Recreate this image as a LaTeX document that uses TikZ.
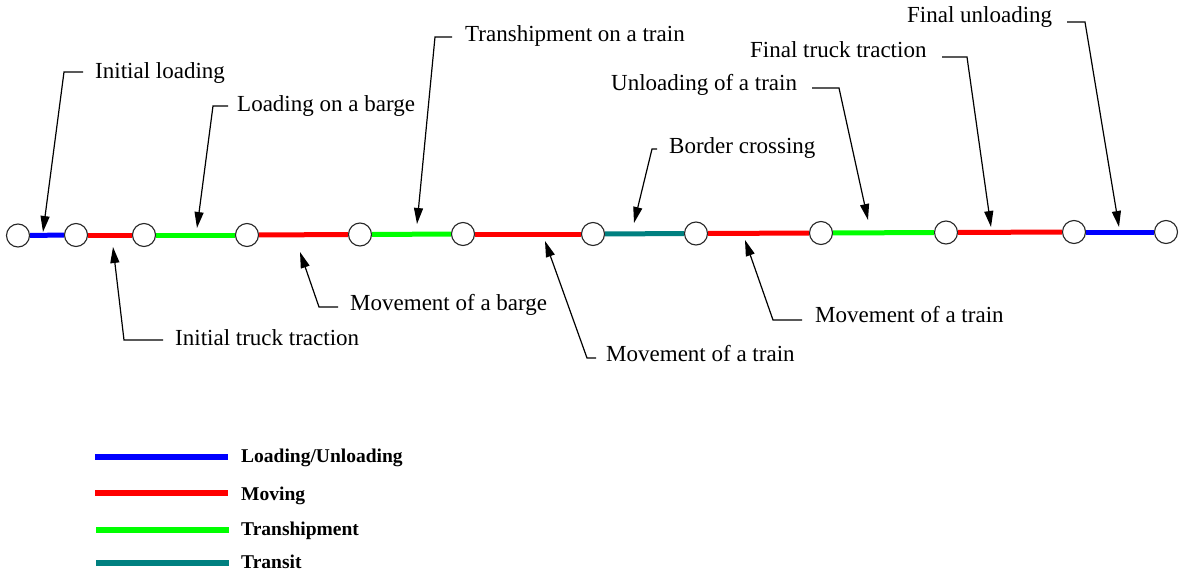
\documentclass[tikz,border=0pt]{standalone}
\usepackage{fontspec}
\setmainfont{Liberation Serif}
\usetikzlibrary{arrows.meta,calc}
\definecolor{loadblue}{RGB}{0,0,255}
\definecolor{moved}{RGB}{255,0,0}
\definecolor{transgreen}{RGB}{0,255,0}
\definecolor{transitteal}{RGB}{0,128,128}
\begin{document}
\begin{tikzpicture}[x=1pt,y=-1pt,
  stop/.style={circle,draw=black!85,fill=white,line width=1.1pt,minimum size=23pt,inner sep=0pt},
  track/.style={line width=5pt},
  lbl/.style={anchor=base west,inner sep=0pt,font=\fontsize{23}{27}\selectfont},
  leader/.style={black,line width=1.2pt,-{Triangle[length=16pt,width=9pt]}},
  keyline/.style={line width=6pt},
  keytext/.style={anchor=base west,inner sep=0pt,font=\fontsize{19.5}{23}\selectfont\bfseries}]
\useasboundingbox (0,0) rectangle (1184,573);

% stops along the route
\node[stop] (c1)  at (18,235.5) {};
\node[stop] (c2)  at (76,235)   {};
\node[stop] (c3)  at (144,235)  {};
\node[stop] (c4)  at (247,235)  {};
\node[stop] (c5)  at (360,234.5){};
\node[stop] (c6)  at (463,234)  {};
\node[stop] (c7)  at (593,234)  {};
\node[stop] (c8)  at (696,233.5){};
\node[stop] (c9)  at (821,233)  {};
\node[stop] (c10) at (946,232.5){};
\node[stop] (c11) at (1074,232) {};
\node[stop] (c12) at (1166,232) {};

% route segments
\draw[track,loadblue]    (c1)  -- (c2);
\draw[track,moved]       (c2)  -- (c3);
\draw[track,transgreen]  (c3)  -- (c4);
\draw[track,moved]       (c4)  -- (c5);
\draw[track,transgreen]  (c5)  -- (c6);
\draw[track,moved]       (c6)  -- (c7);
\draw[track,transitteal] (c7)  -- (c8);
\draw[track,moved]       (c8)  -- (c9);
\draw[track,transgreen]  (c9)  -- (c10);
\draw[track,moved]       (c10) -- (c11);
\draw[track,loadblue]    (c11) -- (c12);

% labels above the route
\node[lbl] (l1) at (95,78)   {Initial loading};
\node[lbl] (l2) at (237,111) {Loading on a barge};
\node[lbl] (l3) at (465,41)  {Transhipment on a train};
\node[lbl] (l4) at (669,153) {Border crossing};
\node[lbl] (l5) at (611,90)  {Unloading of a train};
\node[lbl] (l6) at (750,57)  {Final truck traction};
\node[lbl] (l7) at (907,22)  {Final unloading};
% labels below the route
\node[lbl] (l8)  at (175,345) {Initial truck traction};
\node[lbl] (l9)  at (350,310) {Movement of a barge};
\node[lbl] (l10) at (606,361) {Movement of a train};
\node[lbl] (l11) at (815,322) {Movement of a train};

% leader ends, bends and tips
\coordinate (h1) at (83,72);    \coordinate (b1) at (64,72);    \coordinate (t1) at (43,232);
\coordinate (h2) at (228,106);  \coordinate (b2) at (213,106);  \coordinate (t2) at (197,228);
\coordinate (h3) at (452,37);   \coordinate (b3) at (435,37);   \coordinate (t3) at (417,224);
\coordinate (h4) at (657,149);  \coordinate (b4) at (652,149);  \coordinate (t4) at (634,223);
\coordinate (h5) at (812,88);   \coordinate (b5) at (839,88);   \coordinate (t5) at (868,220);
\coordinate (h6) at (942,57);   \coordinate (b6) at (967,57);   \coordinate (t6) at (991,227);
\coordinate (h7) at (1067,22);  \coordinate (b7) at (1085,22);  \coordinate (t7) at (1119,227);
\coordinate (h8) at (163,340);  \coordinate (b8) at (124,340);  \coordinate (t8) at (113,247);
\coordinate (h9) at (338,307);  \coordinate (b9) at (319,307);  \coordinate (t9) at (300,252);
\coordinate (h10) at (596,358); \coordinate (b10) at (587,358); \coordinate (t10) at (545,241);
\coordinate (h11) at (802,320); \coordinate (b11) at (773,320); \coordinate (t11) at (745,240);

\foreach \i in {1,...,11}{
  \draw[leader] (h\i) -- (b\i) -- (t\i);
}

% legend
\node[keytext] (k1) at (241,462) {Loading/Unloading};
\node[keytext] (k2) at (241,500) {Moving};
\node[keytext] (k3) at (241,535) {Transhipment};
\node[keytext] (k4) at (241,568) {Transit};
\coordinate (s1) at (95,456.5);  \coordinate (e1) at (228,456.5);
\coordinate (s2) at (95,493);    \coordinate (e2) at (228,493);
\coordinate (s3) at (96,529.5);  \coordinate (e3) at (229,529.5);
\coordinate (s4) at (96,563);    \coordinate (e4) at (229,563);
\draw[keyline,loadblue]    (s1) -- (e1);
\draw[keyline,moved]       (s2) -- (e2);
\draw[keyline,transgreen]  (s3) -- (e3);
\draw[keyline,transitteal] (s4) -- (e4);
\end{tikzpicture}
\end{document}
